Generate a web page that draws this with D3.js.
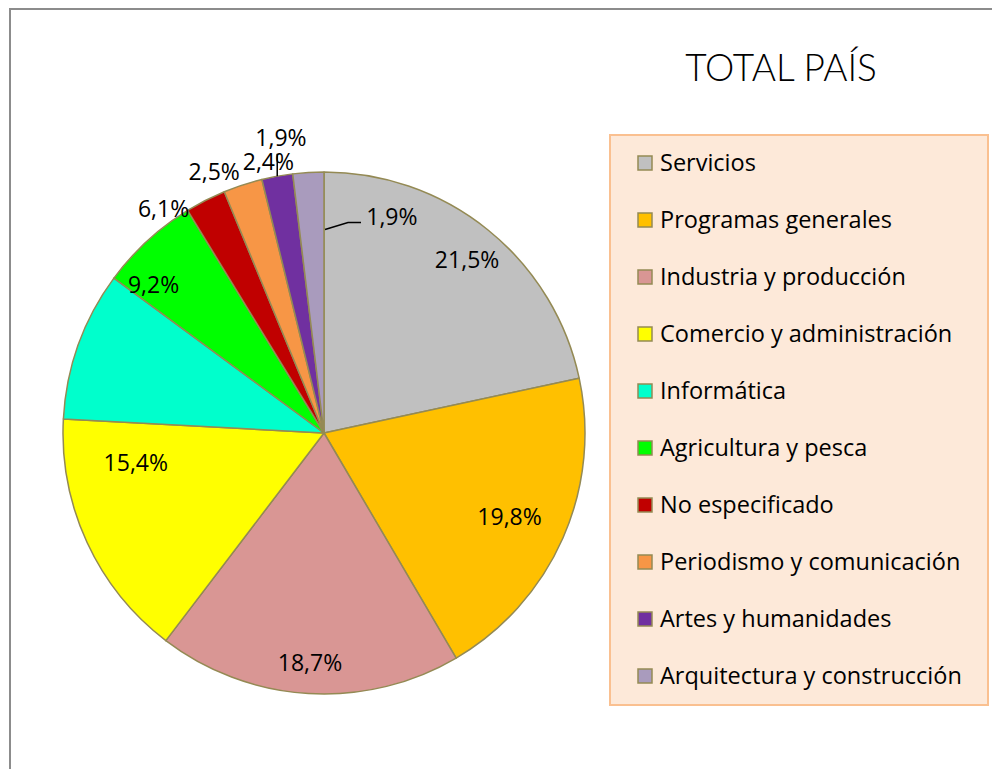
<!DOCTYPE html>
<html>
<head>
<meta charset="utf-8">
<script src="https://cdn.jsdelivr.net/npm/d3@7"></script>
<style>
  body { margin: 0; background: #fff; }
  svg { display: block; font-family: "Open Sans", sans-serif; }
</style>
</head>
<body>
<div id="chart"></div>
<script>
const categories = [
    "Servicios", "Programas generales", "Industria y producción",
    "Comercio y administración", "Informática", "Agricultura y pesca",
    "No especificado", "Periodismo y comunicación", "Artes y humanidades",
    "Arquitectura y construcción"
];
const values = [21.5, 19.8, 18.7, 15.4, 9.2, 6.1, 2.5, 2.4, 1.9, 1.9];
const colors = ["#C0C0C0", "#FFC000", "#D99694", "#FFFF00", "#00FFCC",
                "#00FF00", "#C00000", "#F79646", "#7030A0", "#A99BBD"];
// where Excel put each label: [angle in degrees, fraction of radius]
const labelPlace = [[39.6, 0.86], [114.3, 0.78], [183.5, 0.88], [261, 0.73],
                    [311, 0.865], [324.4, 1.056], [337.2, 1.085], [348.4, 1.06],
                    [351.7, 1.143], [17.4, 0.87]];

const width = 992, height = 769;
const cx = 324, cy = 433, radius = 261;

const svg = d3.select("#chart").append("svg")
    .attr("width", width)
    .attr("height", height);

// outer frame (runs past the bottom and right edges)
svg.append("rect")
    .attr("x", 10).attr("y", 9)
    .attr("width", 1000).attr("height", 800)
    .attr("fill", "#fff")
    .attr("stroke", "#8c8c8c")
    .attr("stroke-width", 2);

svg.append("text")
    .attr("x", 781).attr("y", 81)
    .attr("text-anchor", "middle")
    .style("font-family", "Lato, sans-serif")
    .style("font-size", "37px")
    .style("font-weight", 300)
    .text("TOTAL PAÍS");

const fmt = v => d3.format(".1f")(v).replace(".", ",") + "%";

const pie = d3.pie().sort(null).value(d => d.value);
const arcs = pie(categories.map((c, i) => ({ name: c, value: values[i], color: colors[i] })));
const arc = d3.arc().innerRadius(0).outerRadius(radius);

const g = svg.append("g").attr("transform", `translate(${cx},${cy})`);

g.selectAll("path")
    .data(arcs)
    .enter().append("path")
    .attr("d", arc)
    .attr("fill", d => d.data.color)
    .attr("stroke", "#948A54")
    .attr("stroke-width", 1.5)
    .attr("stroke-linejoin", "round");

const polar = (deg, f) => {
    const a = deg * Math.PI / 180;
    return [Math.sin(a) * radius * f, -Math.cos(a) * radius * f];
};

// leader lines for the two smallest slices
const artes = arcs[8], arq = arcs[9];
const artesMid = (artes.startAngle + artes.endAngle) / 2 * 180 / Math.PI;
const p1 = polar(artesMid, 1), p2 = polar(artesMid, 1.088);
g.append("path")
    .attr("d", d3.line()([p1, [p1[0], p2[1]]]))
    .attr("fill", "none").attr("stroke", "#000").attr("stroke-width", 1.5);

const q1 = polar(arq.endAngle * 180 / Math.PI, 0.78);
g.append("path")
    .attr("d", d3.line()([[q1[0] + 1, q1[1]], [q1[0] + 24, q1[1] - 7], [q1[0] + 37, q1[1] - 7]]))
    .attr("fill", "none").attr("stroke", "#000").attr("stroke-width", 1.5);

g.selectAll("text.lbl")
    .data(arcs)
    .enter().append("text")
    .attr("class", "lbl")
    .attr("transform", (d, i) => `translate(${polar(labelPlace[i][0], labelPlace[i][1])})`)
    .attr("text-anchor", "middle")
    .attr("dy", "0.36em")
    .style("font-size", "23px")
    .text(d => fmt(d.data.value));

// legend
const legend = svg.append("g");
legend.append("rect")
    .attr("x", 610).attr("y", 135)
    .attr("width", 378).attr("height", 570)
    .attr("fill", "#FDE9D9")
    .attr("stroke", "#FAC090")
    .attr("stroke-width", 2);

const ly = d3.scalePoint().domain(categories).range([163, 676]);

const item = legend.selectAll("g.item")
    .data(arcs)
    .enter().append("g")
    .attr("class", "item")
    .attr("transform", d => `translate(638,${ly(d.data.name)})`);

item.append("rect")
    .attr("x", 0).attr("y", -7)
    .attr("width", 14).attr("height", 14)
    .attr("fill", d => d.data.color)
    .attr("stroke", "#948A54")
    .attr("stroke-width", 1.5);

item.append("text")
    .attr("x", 22).attr("dy", "0.36em")
    .style("font-size", "23.5px")
    .text(d => d.data.name);
</script>
</body>
</html>
